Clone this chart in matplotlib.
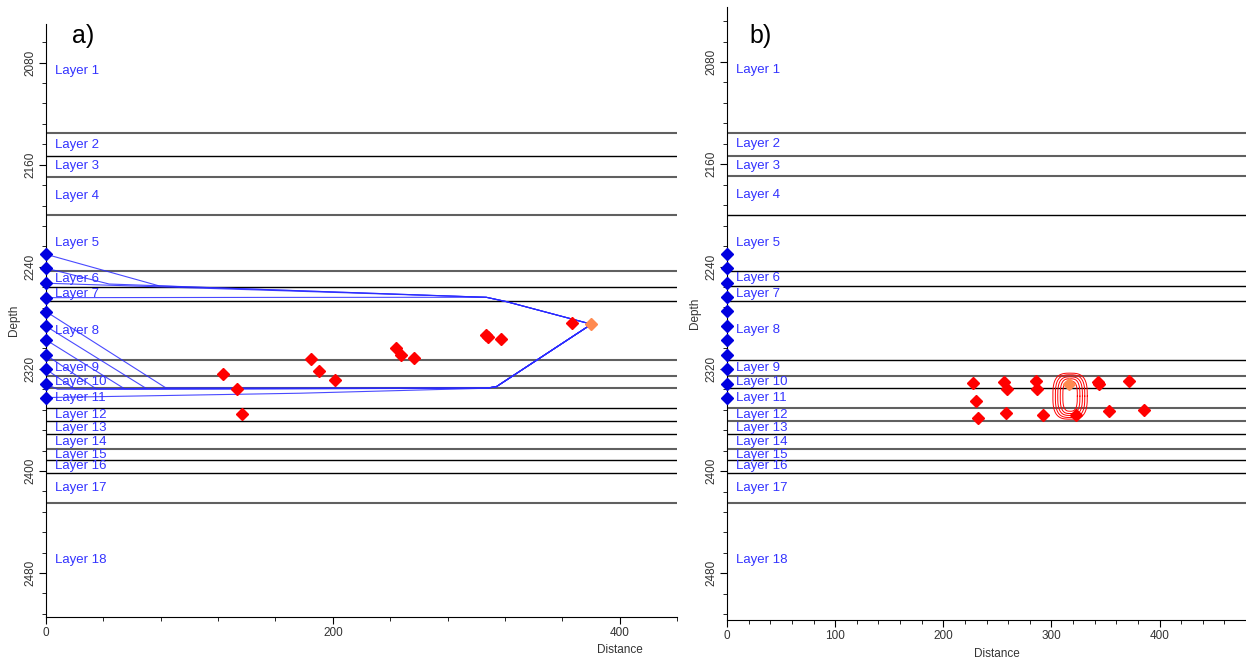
# seismic layer model with ray paths (a) and location contours (b)

import matplotlib
matplotlib.use('Agg')
import matplotlib.pyplot as plt
from matplotlib.ticker import MultipleLocator
import numpy as np

plt.rcParams['font.family'] = ['Liberation Sans', 'DejaVu Sans']

# layer boundaries (depth) and layer names
layer_top = 2038
layer_bottom = 2515
boundaries = [2135.3, 2153.4, 2169.3, 2199.4, 2243.2, 2255.5, 2267.0, 2313.0, 2325.5,
              2335.0, 2350.8, 2361.0, 2371.2, 2383.0, 2391.4, 2401.3, 2424.8]
layer_names = ['Layer %d' % i for i in range(1, 19)]
# boundary line style: 'g' grey, 'k' black
bnd_style_a = ['g', 'k', 'g', 'g', 'g', 'k', 'k', 'g', 'g', 'g', 'k', 'k', 'k', 'g', 'k', 'k', 'g']
bnd_style_b = ['g', 'g', 'g', 'k', 'k', 'k', 'k', 'k', 'g', 'k', 'g', 'g', 'k', 'g', 'k', 'k', 'g']

# receivers on the well (x = 0)
recv_depth = [2230.2, 2241.1, 2252.9, 2264.2, 2275.1, 2286.6, 2297.3, 2309.1, 2320.3, 2331.8, 2342.5]

# panel a events
ev_a_x = [123.7, 133.3, 136.8, 184.8, 190.7, 201.7, 243.8, 247.7, 256.3, 306.5, 308.5, 317.0, 366.8]
ev_a_d = [2324.0, 2336.0, 2355.5, 2312.6, 2321.6, 2328.7, 2303.4, 2309.3, 2311.2, 2293.8, 2295.0, 2296.8, 2284.0]
src_a = (380.3, 2285.0)

# ray paths, panel a (distance, depth)
rays_x = [
    [0, 79, 307, 321, 380.3],
    [0, 44, 307, 321, 380.3],
    [0, 15, 307, 321, 380.3],
    [0, 150, 307, 321, 380.3],
    [0, 83.7, 306.6, 314, 380.3],
    [0, 69.8, 306.6, 314, 380.3],
    [0, 54.6, 306.6, 314, 380.3],
    [0, 35, 306.6, 314, 380.3],
    [0, 20, 306.6, 314, 380.3],
    [0, 8, 306.6, 314, 380.3],
    [0, 177, 306.6, 314, 380.3],
]
rays_d = [
    [2230.2, 2255.0, 2263.9, 2267.3, 2285.0],
    [2241.1, 2253.5, 2263.9, 2267.3, 2285.0],
    [2252.9, 2253.4, 2263.9, 2267.3, 2285.0],
    [2264.2, 2264.0, 2263.9, 2267.3, 2285.0],
    [2275.1, 2335.0, 2335.2, 2334.0, 2285.0],
    [2286.6, 2335.3, 2335.2, 2334.0, 2285.0],
    [2297.3, 2335.5, 2335.2, 2334.0, 2285.0],
    [2309.1, 2335.7, 2335.2, 2334.0, 2285.0],
    [2320.3, 2335.8, 2335.2, 2334.0, 2285.0],
    [2331.8, 2336.0, 2335.2, 2334.0, 2285.0],
    [2342.5, 2339.1, 2335.2, 2334.0, 2285.0],
]

# panel b events
ev_b_x = [227.5, 230.5, 232.4, 255.8, 258.9, 258.0, 286.0, 286.8, 292.3, 322.9, 342.9, 343.8, 353.7, 372.2, 385.8]
ev_b_d = [2331.3, 2345.1, 2358.4, 2330.0, 2336.0, 2354.5, 2329.4, 2335.7, 2355.9, 2355.9, 2330.0, 2332.0, 2353.2, 2329.4, 2352.0]
src_b = (316.0, 2332.0)

# location uncertainty contours (centre and half sizes)
cont_cx, cont_cd = 317.3, 2341.4
cont_hw = [6.7, 9.1, 11.4, 13.6, 15.9]
cont_hh = [11.8, 13.6, 15.1, 16.7, 18.0]

BLUE_TXT = '#3333ff'
RED = '#ff0000'
ORANGE = '#ff8a50'


def draw_layers(ax, styles):
    for d, s in zip(boundaries, styles):
        if s == 'g':
            ax.axhline(d, color='#606060', lw=1.5, zorder=1)
        else:
            ax.axhline(d, color='black', lw=1.0, zorder=1)
    edges = [layer_top] + boundaries + [layer_bottom]
    for i, name in enumerate(layer_names):
        mid = 0.5 * (edges[i] + edges[i + 1])
        ax.annotate(name, xy=(0, mid), xycoords=('axes fraction', 'data'),
                    xytext=(6.5, 0), textcoords='offset points',
                    va='center', ha='left', color=BLUE_TXT, fontsize=9.5, zorder=3)


def style_axes(ax, xmaj, xmin):
    ax.spines['top'].set_visible(False)
    ax.spines['right'].set_visible(False)
    ax.yaxis.set_major_locator(MultipleLocator(80))
    ax.yaxis.set_minor_locator(MultipleLocator(16))
    ax.xaxis.set_major_locator(MultipleLocator(xmaj))
    ax.xaxis.set_minor_locator(MultipleLocator(xmin))
    ax.tick_params(which='major', direction='out', length=5, labelsize=8.5, labelcolor='#333333', pad=2)
    ax.tick_params(which='minor', direction='out', length=3)
    for lab in ax.get_yticklabels():
        lab.set_rotation(90)
        lab.set_va('center')
    ax.set_ylabel('Depth', fontsize=8.5, color='#333333', labelpad=6)


fig = plt.figure(figsize=(12.46, 6.58), dpi=100)

# ---- panel a
ax1 = fig.add_axes([46 / 1246, 1 - 617 / 658, 631 / 1246, 593 / 658])
ax1.set_xlim(0, 440)
ax1.set_ylim(2514.5, 2049.7)
draw_layers(ax1, bnd_style_a)
for rx, rd in zip(rays_x, rays_d):
    ax1.plot(rx, rd, color='#2a2aff', lw=0.8, alpha=0.85, zorder=4)
ax1.plot(ev_a_x, ev_a_d, 'D', color=RED, ms=6.5, zorder=5)
ax1.plot(*src_a, 'D', color=ORANGE, ms=6.5, zorder=6)
ax1.plot([0] * len(recv_depth), recv_depth, 'D', color='#0000e0', ms=6, clip_on=False, zorder=7)
style_axes(ax1, 200, 40)
ax1.set_xlabel('Distance', fontsize=8.5, color='#333333', labelpad=2)
ax1.xaxis.set_label_coords(0.91, -0.045)
ax1.yaxis.set_label_coords(-0.041, 0.5)
fig.text(72 / 1246, 1 - 36 / 658, 'a)', fontsize=18, va='center', ha='left')

# ---- panel b
ax2 = fig.add_axes([727 / 1246, 1 - 620 / 658, 519 / 1246, 613 / 658])
ax2.set_xlim(0, 480)
ax2.set_ylim(2516.5, 2037)
draw_layers(ax2, bnd_style_b)
t = np.linspace(0, 2 * np.pi, 200)
for hw, hh in zip(cont_hw, cont_hh):
    cx = cont_cx + hw * np.sign(np.cos(t)) * np.abs(np.cos(t)) ** (2 / 3)
    cy = cont_cd + hh * np.sign(np.sin(t)) * np.abs(np.sin(t)) ** (2 / 3)
    ax2.plot(cx, cy, color=RED, lw=0.7, zorder=4)
ax2.plot(ev_b_x, ev_b_d, 'D', color=RED, ms=6.5, zorder=5)
ax2.plot(*src_b, 'D', color=ORANGE, ms=6.5, zorder=6)
ax2.plot([0] * len(recv_depth), recv_depth, 'D', color='#0000e0', ms=6, clip_on=False, zorder=7)
style_axes(ax2, 100, 20)
ax2.set_xlabel('Distance', fontsize=8.5, color='#333333', labelpad=2)
ax2.xaxis.set_label_coords(0.52, -0.045)
ax2.yaxis.set_label_coords(-0.05, 0.5)
fig.text(749 / 1246, 1 - 36 / 658, 'b)', fontsize=18, va='center', ha='left')

plt.savefig('out.png', dpi=100)
